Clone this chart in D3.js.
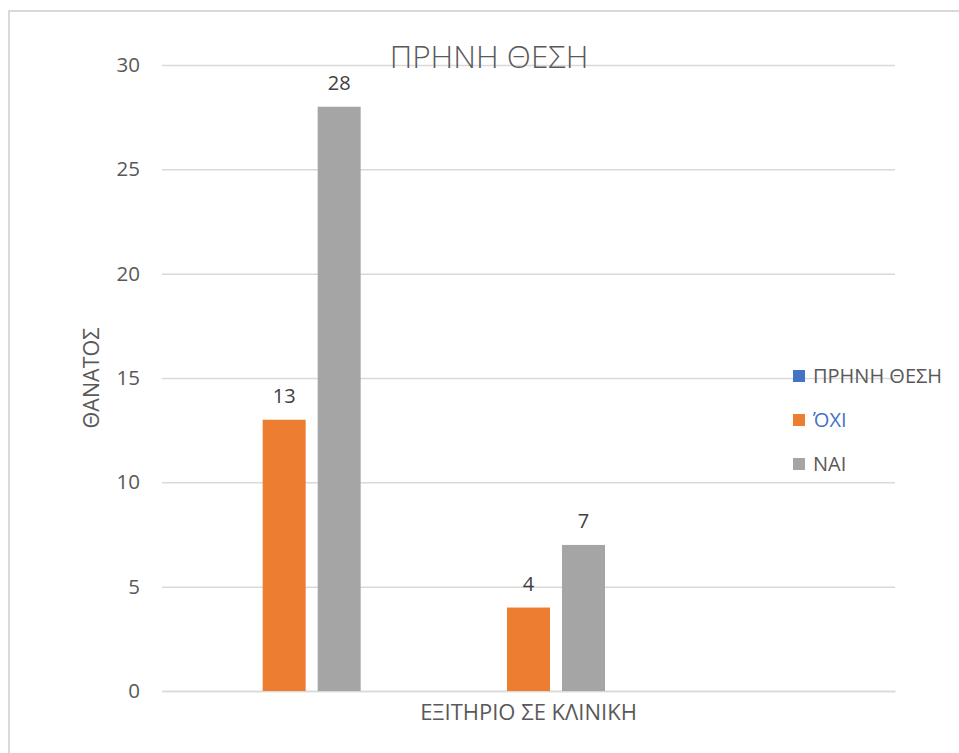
<!DOCTYPE html>
<html>
<head>
<meta charset="utf-8">
<script src="https://cdn.jsdelivr.net/npm/d3@7"></script>
<style>
  html, body { margin: 0; padding: 0; background: #fff; }
  svg { display: block; }
</style>
</head>
<body>
<svg id="chart" width="959" height="753"></svg>
<script>
// ---- data ----
const chartTitle = "ΠΡΗΝΗ ΘΕΣΗ";
const yAxisTitle = "ΘΑΝΑΤΟΣ";
const categoryLabels = ["", "ΕΞΙΤΗΡΙΟ ΣΕ ΚΛΙΝΙΚΗ", ""];
const seriesNames = ["ΠΡΗΝΗ ΘΕΣΗ", "ΌΧΙ", "ΝΑΙ"];
const seriesPrenis = [null, null, null];
const seriesOxi = [13, 4, null];
const seriesNai = [28, 7, null];
const yTicks = [0, 5, 10, 15, 20, 25, 30];
const seriesColors = ["#4472C4", "#ED7D31", "#A5A5A5"];
const legendTextColors = ["#595959", "#4472C4", "#595959"];

const seriesValues = [seriesPrenis, seriesOxi, seriesNai];

// ---- layout ----
const svg = d3.select("#chart");
const W = 959, H = 753;
const plot = { left: 162, right: 895, top: 65, bottom: 691 };
const font = "'Open Sans', 'Noto Sans', sans-serif";
const textColor = "#595959";
const gridColor = "#d9d9d9";

// chart frame
svg.append("rect")
  .attr("x", 9).attr("y", 11)
  .attr("width", W + 20).attr("height", H + 20)
  .attr("fill", "#fff")
  .attr("stroke", gridColor).attr("stroke-width", 2);

const y = d3.scaleLinear().domain([0, 30]).range([plot.bottom, plot.top]);
const catIdx = categoryLabels.map((d, i) => i);
const x0 = d3.scaleBand().domain(catIdx).range([plot.left, plot.right]).paddingInner(0).paddingOuter(0);
const groupW = 165;
const x1 = d3.scaleBand().domain(seriesNames)
  .range([x0.bandwidth() / 2 - groupW / 2, x0.bandwidth() / 2 + groupW / 2])
  .paddingInner(12 / 55).paddingOuter(6 / 55);

// gridlines
const yAxis = d3.axisLeft(y).tickValues(yTicks).tickSize(-(plot.right - plot.left)).tickPadding(22).tickFormat(d3.format("d"));
const gy = svg.append("g").attr("transform", `translate(${plot.left},0)`).call(yAxis);
gy.select(".domain").remove();
gy.selectAll(".tick line").attr("stroke", gridColor).attr("stroke-width", 1.5);
gy.selectAll(".tick text")
  .attr("fill", textColor).attr("font-family", font).attr("font-size", 20.5);

// x axis baseline + labels
const xAxis = d3.axisBottom(x0).tickSize(0).tickPadding(13).tickFormat(i => categoryLabels[i]);
const gx = svg.append("g").attr("transform", `translate(0,${plot.bottom})`).call(xAxis);
gx.select(".domain").attr("stroke", gridColor).attr("stroke-width", 1.5);
gx.selectAll(".tick text").attr("fill", textColor).attr("font-family", font).attr("font-size", 22);

// title
svg.append("text")
  .attr("x", 489).attr("y", 68)
  .attr("text-anchor", "middle")
  .attr("fill", textColor)
  .attr("font-family", font).attr("font-weight", 300)
  .attr("font-size", 31.5)
  .text(chartTitle);

// y axis title
svg.append("text")
  .attr("transform", `translate(99,${(plot.top + plot.bottom) / 2}) rotate(-90)`)
  .attr("text-anchor", "middle")
  .attr("fill", textColor)
  .attr("font-family", font).attr("font-size", 21.5)
  .text(yAxisTitle);

// bars
const flat = [];
seriesNames.forEach((s, si) => {
  seriesValues[si].forEach((v, ci) => {
    if (v !== null) flat.push({ s, si, ci, v });
  });
});
const gBars = svg.append("g");
gBars.selectAll("rect").data(flat).join("rect")
  .attr("x", d => x0(d.ci) + x1(d.s))
  .attr("y", d => y(d.v))
  .attr("width", x1.bandwidth())
  .attr("height", d => y(0) - y(d.v))
  .attr("fill", d => seriesColors[d.si]);

gBars.selectAll("text").data(flat).join("text")
  .attr("x", d => x0(d.ci) + x1(d.s) + x1.bandwidth() / 2)
  .attr("y", d => y(d.v) - 17)
  .attr("text-anchor", "middle")
  .attr("fill", "#404040")
  .attr("font-family", font).attr("font-size", 20)
  .text(d => d.v);

// legend
const legend = svg.append("g");
const legItems = legend.selectAll("g").data(seriesNames).join("g")
  .attr("transform", (d, i) => `translate(793,${376 + i * 44})`);
legItems.append("rect")
  .attr("x", 0).attr("y", -6).attr("width", 12).attr("height", 12)
  .attr("fill", (d, i) => seriesColors[i]);
legItems.append("text")
  .attr("x", 20).attr("y", 0).attr("dy", "0.36em")
  .attr("fill", (d, i) => legendTextColors[i])
  .attr("font-family", font).attr("font-size", 20)
  .text(d => d);
</script>
</body>
</html>
